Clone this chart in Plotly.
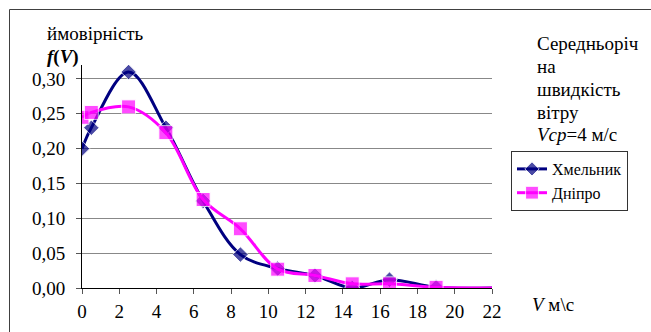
import plotly.graph_objects as go

# Data
V = [0, 0.5, 2.5, 4.5, 6.5, 8.5, 10.5, 12.5, 14.5, 16.5, 19, 22]
f_khmelnyk = [0.200, 0.230, 0.310, 0.230, 0.125, 0.048, 0.028, 0.018, 0.000, 0.012, 0.001, 0.000]
f_dnipro = [0.245, 0.252, 0.260, 0.223, 0.127, 0.085, 0.027, 0.018, 0.006, 0.006, 0.001, 0.000]
x_ticks = list(range(0, 23, 2))
y_ticks = [0, 0.05, 0.10, 0.15, 0.20, 0.25, 0.30]

W, H = 651, 332
L, R, T, B = 82, 492, 65, 288  # plot area pixels


def px(x):
    return (x - L) / (R - L)


def py(y):
    return (B - y) / (B - T)


SERIF = "Liberation Serif"
y_range = [0, (B - T) / 696.7]

fig = go.Figure()
nk = len(V)
fig.add_trace(go.Scatter(
    x=V, y=f_khmelnyk, name="Хмельник", mode="lines+markers",
    line=dict(color="#000080", width=3, shape="spline", smoothing=1.0),
    marker=dict(symbol="diamond", color="#000080", size=[12] * (nk - 1) + [0]),
))
fig.add_trace(go.Scatter(
    x=V, y=f_dnipro, name="Дніпро", mode="lines+markers",
    line=dict(color="#FF00FF", width=3, shape="spline", smoothing=1.0),
    marker=dict(symbol="square", color="#FF00FF", size=[14] * (nk - 1) + [0]),
))
# empty helper trace so the tick-mark axis is drawn
fig.add_trace(go.Scatter(x=[], y=[], yaxis="y2", showlegend=False, hoverinfo="skip"))

fig.update_layout(
    width=W, height=H,
    margin=dict(l=L, r=W - R, t=T, b=H - B, pad=0, autoexpand=False),
    paper_bgcolor="white", plot_bgcolor="white",
    separators=", ",
    font=dict(family=SERIF, color="black", size=19),
    showlegend=True,
    legend=dict(
        x=px(511), y=py(151), xanchor="left", yanchor="top",
        bordercolor="#333333", borderwidth=1, bgcolor="white",
        font=dict(family=SERIF, size=16, color="black"),
        tracegroupgap=0, itemwidth=30, entrywidth=110,
    ),
    xaxis=dict(
        range=[0, 22], tickvals=x_ticks, ticktext=[str(v) for v in x_ticks],
        showline=True, linecolor="black", linewidth=1,
        ticks="outside", ticklen=5, tickcolor="#555555",
        showgrid=False, zeroline=False, automargin=False,
        tickfont=dict(family=SERIF, size=19), ticklabelstandoff=1,
    ),
    yaxis=dict(
        range=y_range, tickvals=y_ticks, tickformat=".2f",
        showline=True, linecolor="black", linewidth=1,
        ticks="outside", ticklen=12, tickcolor="rgba(0,0,0,0)",
        showgrid=True, gridcolor="#888888", gridwidth=1, zeroline=False,
        automargin=False,
        tickfont=dict(family=SERIF, size=19),
    ),
    yaxis2=dict(
        range=y_range, tickvals=y_ticks, overlaying="y", side="left",
        anchor="x", showticklabels=False, showline=False, showgrid=False,
        zeroline=False, ticks="outside", ticklen=5, tickcolor="#555555",
        automargin=False,
    ),
    shapes=[dict(
        type="rect", xref="paper", yref="paper",
        x0=px(9.5), x1=px(700), y0=py(400), y1=py(9.5),
        line=dict(color="#404040", width=1), layer="below",
    )],
)

ann = []
ann.append(dict(text="ймовірність", x=px(45), y=py(33)))
ann.append(dict(text="<b><i>f</i>(<i>V</i>)</b>", x=px(45), y=py(57)))
for t, yy in [("Середньоріч", 44), ("на", 66), ("швидкість", 89),
              ("вітру", 112), ("<i>Vcp</i>=4 м/с", 134)]:
    ann.append(dict(text=t, x=px(535), y=py(yy)))
ann.append(dict(text="<i>V</i> м\\с", x=px(530), y=py(304)))
for a in ann:
    a.update(xref="paper", yref="paper", xanchor="left", yanchor="middle",
             showarrow=False, font=dict(family=SERIF, size=19, color="black"))
fig.update_layout(annotations=ann)

fig.write_html("out.html", config={"displayModeBar": False},
               post_script="document.body.style.margin='0';")
